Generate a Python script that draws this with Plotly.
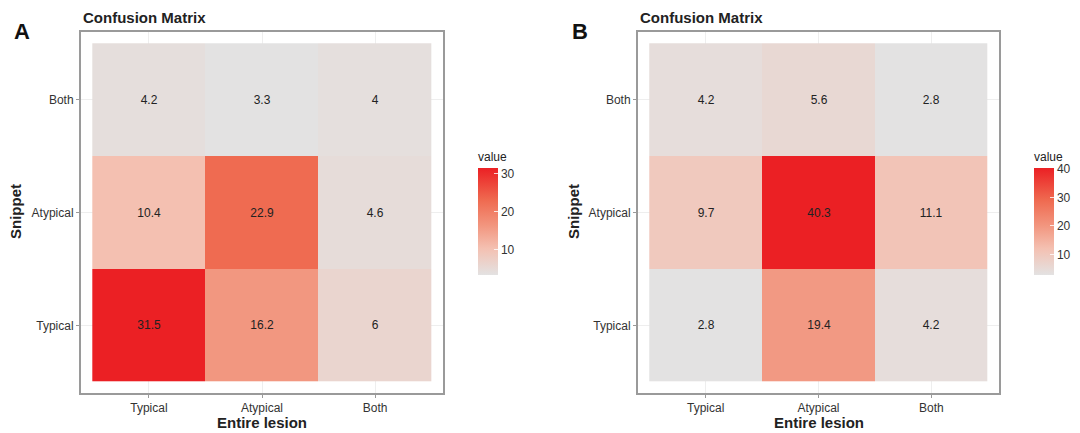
import plotly.graph_objects as go

categories = ["Typical", "Atypical", "Both"]
# rows = Snippet (Typical, Atypical, Both), cols = Entire lesion (Typical, Atypical, Both)
values_a = [
    [31.5, 16.2, 6],
    [10.4, 22.9, 4.6],
    [4.2, 3.3, 4],
]
values_b = [
    [2.8, 19.4, 4.2],
    [9.7, 40.3, 11.1],
    [4.2, 5.6, 2.8],
]
ticks_a = [10, 20, 30]
ticks_b = [10, 20, 30, 40]

W, H = 1080, 433
FONT = "Liberation Sans, Arial, sans-serif"

scale = [
    [0.0, "#E3E2E2"],
    [0.25, "#F4C0B1"],
    [0.46, "#F2967F"],
    [0.70, "#EF6A50"],
    [1.0, "#EB2024"],
]


def px_x(x):
    return x / W


def px_y(y):
    return 1 - y / H


fig = go.Figure()

panels = [
    dict(vals=values_a, ticks=ticks_a, x0=81, x1=443, cbx=478, xa="x", ya="y", letter="A", lx=14),
    dict(vals=values_b, ticks=ticks_b, x0=638, x1=999, cbx=1034, xa="x2", ya="y2", letter="B", lx=572),
]
y0, y1 = 32, 393

for i, p in enumerate(panels):
    flat = [v for r in p["vals"] for v in r]
    fig.add_trace(go.Heatmap(
        x=categories, y=categories, z=p["vals"],
        zmin=min(flat), zmax=max(flat),
        colorscale=scale,
        texttemplate="%{z}", textfont=dict(size=12, color="#222222", family=FONT),
        xaxis=p["xa"], yaxis=p["ya"],
        hoverinfo="skip",
        colorbar=dict(
            x=px_x(p["cbx"]), xanchor="left", xref="paper",
            y=px_y(275), yanchor="bottom", len=126 / H, lenmode="fraction",
            thickness=20, outlinewidth=0,
            tickvals=p["ticks"], ticks="inside", ticklen=4, tickcolor="rgba(255,255,255,0.8)",
            tickfont=dict(size=12, color="#333333", family=FONT),
            title=dict(text="value", side="top", font=dict(size=12, color="#222222", family=FONT)),
            xpad=0, ypad=0,
        ),
    ))
    sfx = "" if i == 0 else "2"
    axis_common = dict(
        type="category", categoryorder="array", categoryarray=categories,
        range=[-0.6, 2.6], showline=True, mirror=True, linecolor="#9A9A9A", linewidth=2,
        showgrid=True, gridcolor="#EEEEEE", zeroline=False,
        ticks="outside", ticklen=3, tickcolor="#9A9A9A",
        tickfont=dict(size=12, color="#333333", family=FONT),
    )
    fig.layout["xaxis" + sfx] = dict(axis_common, domain=[px_x(p["x0"]), px_x(p["x1"])],
                                     anchor="y" + sfx)
    fig.layout["yaxis" + sfx] = dict(axis_common, domain=[px_y(y1), px_y(y0)],
                                     anchor="x" + sfx)
    cx = (p["x0"] + p["x1"]) / 2
    fig.add_annotation(x=px_x(cx), y=px_y(422), xref="paper", yref="paper",
                       text="<b>Entire lesion</b>", showarrow=False,
                       font=dict(size=15, color="#222222", family=FONT),
                       xanchor="center", yanchor="middle")
    fig.add_annotation(x=px_x(p["lx"] + 1), y=px_y(212), xref="paper", yref="paper",
                       text="<b>Snippet</b>", showarrow=False, textangle=-90,
                       font=dict(size=15, color="#222222", family=FONT),
                       xanchor="center", yanchor="middle")
    fig.add_annotation(x=px_x(p["x0"]), y=px_y(18), xref="paper", yref="paper",
                       text="<b>Confusion Matrix</b>", showarrow=False,
                       font=dict(size=15, color="#222222", family=FONT),
                       xanchor="left", yanchor="middle")
    fig.add_annotation(x=px_x(p["lx"] - 2), y=px_y(32), xref="paper", yref="paper",
                       text="<b>%s</b>" % p["letter"], showarrow=False,
                       font=dict(size=22, color="#111111", family=FONT),
                       xanchor="left", yanchor="middle")

fig.update_layout(
    width=W, height=H,
    margin=dict(l=0, r=0, t=0, b=0),
    paper_bgcolor="white", plot_bgcolor="white",
    showlegend=False,
)

fig.write_html(
    "out.html",
    config={"displayModeBar": False},
    post_script="document.body.style.margin='0';document.body.style.padding='0';"
                "document.body.style.overflow='hidden';",
)
